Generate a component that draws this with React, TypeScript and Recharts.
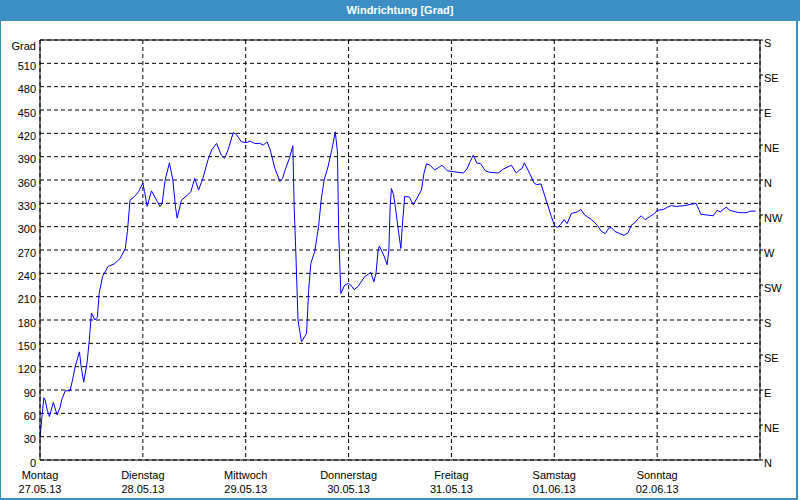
import React from 'react';
import { LineChart, Line, XAxis, YAxis, CartesianGrid, ReferenceLine } from 'recharts';

// hours since Monday 00:00, wind direction in degrees (unwrapped, can exceed 360)
const hours = [
  0, 0.5, 0.9, 1.2, 1.7, 2.2, 3.1, 4.0, 4.7, 5.1, 5.9, 7.0, 7.6, 8.2, 9.2, 9.6, 10.2, 11.0, 11.5, 12.0,
  12.8, 13.4, 13.8, 14.6, 15.9, 17.3, 18.7, 19.9, 20.4, 21.0, 22.1, 23.0, 24.0, 24.4, 25.0, 26.0, 28.0, 28.5,
  29.2, 30.2, 31.0, 31.6, 32.0, 33.0, 34.5, 35.2, 36.1, 37.0, 38.0, 39.2, 40.1, 41.2, 42.3, 43.1, 43.9, 45.1,
  45.9, 47.0, 48.1, 49.0, 50.1, 51.3, 52.1, 53.0, 53.7, 54.8, 56.0, 56.6, 57.2, 58.2, 59.0, 59.3, 59.7, 60.2,
  61.0, 61.8, 62.2, 62.7, 63.2, 64.1, 65.0, 65.6, 66.3, 67.2, 68.1, 68.9, 69.4, 69.7, 70.2, 71.1, 72.0, 72.5,
  73.3, 74.2, 75.8, 77.2, 77.9, 78.4, 78.9, 79.2, 80.3, 81.0, 81.4, 81.7, 82.0, 82.5, 82.9, 83.5, 84.2, 84.5,
  85.1, 86.2, 87.1, 88.2, 89.0, 89.6, 90.2, 91.0, 92.1, 93.0, 93.8, 95.0, 96.1, 98.8, 99.6, 100.5, 101.1,
  101.9, 102.8, 103.9, 104.8, 106.9, 108.1, 109.2, 110.0, 111.1, 111.7, 112.5, 113.0, 114.3, 115.3, 115.9,
  116.9, 117.7, 118.7, 119.3, 120.1, 120.7, 121.5, 122.3, 123.0, 124.0, 125.4, 126.2, 127.1, 128.7, 130.0,
  131.0, 131.9, 132.7, 133.3, 134.1, 135.3, 136.3, 137.2, 138.0, 138.8, 139.5, 140.3, 141.2, 142.3, 143.4,
  144.0, 145.4, 146.4, 147.3, 148.6, 150.3, 151.2, 152.1, 153.1, 153.4, 154.2, 155.6, 157.1, 158.0, 158.7,
  160.1, 161.0, 162.3, 163.3, 164.9, 165.7, 167.0,
];
const degrees = [
  28, 58, 80, 77, 64, 56, 74, 58, 68, 78, 89, 89, 103, 120, 139, 120, 100, 126, 154, 189,
  180, 184, 214, 236, 249, 252, 259, 272, 294, 334, 339, 345, 356, 345, 326, 346, 326, 330,
  360, 382, 360, 326, 311, 334, 341, 345, 362, 347, 362, 386, 399, 407, 392, 388, 399, 421,
  418, 409, 408, 410, 407, 407, 405, 409, 399, 375, 358, 362, 373, 388, 404, 326, 266, 180,
  152, 159, 163, 219, 253, 268, 300, 334, 360, 377, 399, 422, 396, 291, 214, 225, 227, 225,
  219, 223, 236, 241, 229, 240, 270, 275, 262, 251, 270, 326, 349, 341, 326, 300, 272, 298,
  339, 338, 328, 339, 347, 369, 381, 379, 373, 376, 379, 372, 371, 369, 374, 385, 392,
  382, 381, 372, 370, 369, 374, 377, 379, 369, 372, 375, 382, 368, 356, 354,
  355, 341, 324, 313, 301, 299, 303, 309, 304, 317, 319, 322, 315, 309, 302,
  294, 291, 298, 299, 294, 291, 289, 292, 302, 305, 310, 314, 309, 313, 317,
  321, 322, 325, 327, 326, 327, 328, 329, 330, 326, 316, 315, 314, 321, 319,
  325, 321, 319, 318, 318, 320, 320,
];

const dayNames = ['Montag', 'Dienstag', 'Mittwoch', 'Donnerstag', 'Freitag', 'Samstag', 'Sonntag'];
const dayDates = ['27.05.13', '28.05.13', '29.05.13', '30.05.13', '31.05.13', '01.06.13', '02.06.13'];
const gradTicks = [0, 30, 60, 90, 120, 150, 180, 210, 240, 270, 300, 330, 360, 390, 420, 450, 480, 510, 540];
const compassTicks = [0, 45, 90, 135, 180, 225, 270, 315, 360, 405, 450, 495, 540];
const compassLabels = ['N', 'NE', 'E', 'SE', 'S', 'SW', 'W', 'NW', 'N', 'NE', 'E', 'SE', 'S'];

const data = hours.map((h, i) => ({ h, v: degrees[i] }));
const dayTicks = dayNames.map((_, i) => i * 24);

const font = "'Liberation Sans', Arial, sans-serif";
const blue = '#3b8fc4';

const LeftTick = (props: any) => {
  const { x, y, payload } = props;
  const top = payload.value === 540;
  return (
    <text x={x} y={y} dy={top ? 10 : 6.5} textAnchor="end" fontSize={11} fontFamily={font} fill="#000">
      {top ? 'Grad' : payload.value}
    </text>
  );
};

const RightTick = (props: any) => {
  const { x, y, payload } = props;
  const idx = compassTicks.indexOf(payload.value);
  return (
    <text x={x} y={y} dy={6.5} textAnchor="start" fontSize={11} fontFamily={font} fill="#000">
      {compassLabels[idx]}
    </text>
  );
};

const DayTick = (props: any) => {
  const { x, y, payload } = props;
  const i = Math.round(payload.value / 24);
  return (
    <g>
      <text x={x} y={y + 19} textAnchor="middle" fontSize={11} fontFamily={font} fill="#000">{dayNames[i]}</text>
      <text x={x} y={y + 33} textAnchor="middle" fontSize={11} fontFamily={font} fill="#000">{dayDates[i]}</text>
    </g>
  );
};

export default function App() {
  return (
    <div style={{ position: 'absolute', left: 0, top: 0, width: 800, height: 500, background: '#fff', fontFamily: font }}>
      <div style={{ position: 'absolute', left: 0, top: 0, width: 800, height: 21, background: blue, color: '#fff', fontWeight: 'bold', fontSize: 11, lineHeight: '21px', textAlign: 'center' }}>
        Windrichtung [Grad]
      </div>
      <div style={{ position: 'absolute', left: 0, top: 21, width: 1, height: 479, background: blue }} />
      <div style={{ position: 'absolute', left: 796, top: 21, width: 2, height: 479, background: blue }} />
      <div style={{ position: 'absolute', left: 0, top: 498, width: 798, height: 2, background: blue }} />
      <div style={{ position: 'absolute', left: 0, top: 20 }}>
        <LineChart width={800} height={480} data={data} margin={{ top: 20, right: 0, bottom: 0, left: 0 }}>
          <CartesianGrid stroke="#000" strokeDasharray="4 3" />
          <XAxis
            dataKey="h"
            type="number"
            domain={[0, 168]}
            ticks={dayTicks}
            height={40}
            tickLine={false}
            tickSize={0}
            tickMargin={0}
            axisLine={{ stroke: '#000' }}
            tick={<DayTick />}
            interval={0}
          />
          <YAxis
            type="number"
            domain={[0, 540]}
            ticks={gradTicks}
            width={40}
            tickLine={false}
            tickSize={0}
            tickMargin={4}
            axisLine={{ stroke: '#000' }}
            tick={<LeftTick />}
            interval={0}
          />
          <YAxis
            yAxisId="right"
            orientation="right"
            type="number"
            domain={[0, 540]}
            ticks={compassTicks}
            width={40}
            tickSize={3}
            tickMargin={1}
            tickLine={{ stroke: '#000' }}
            axisLine={{ stroke: '#000' }}
            tick={<RightTick />}
            interval={0}
          />
          <ReferenceLine y={540} stroke="#000" />
          <Line type="linear" dataKey="v" stroke="#0000ff" strokeWidth={1} dot={false} isAnimationActive={false} />
          {/* same series on the compass axis, invisible, so that axis gets drawn */}
          <Line yAxisId="right" type="linear" dataKey="v" stroke="none" dot={false} activeDot={false} isAnimationActive={false} />
        </LineChart>
      </div>
    </div>
  );
}
